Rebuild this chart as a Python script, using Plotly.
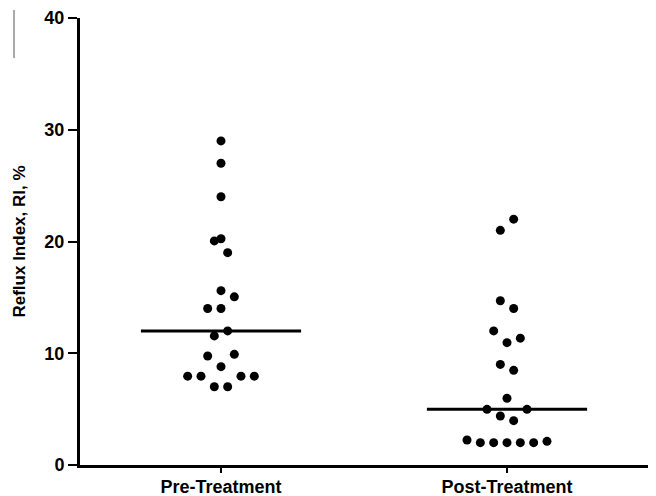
import numpy as np
import plotly.graph_objects as go

# ---------------- data ----------------
categories = ["Pre-Treatment", "Post-Treatment"]
# values listed in entry order (within a row of the dot plot they are laid out left to right)
pre_values = [29.0, 27.0, 24.0, 20.25, 20.05, 19.0, 15.6, 14.0, 14.0, 15.05,
              11.55, 12.0, 9.75, 8.8, 9.9, 7.95, 7.95, 7.0, 7.0, 7.95, 7.95]
post_values = [21.0, 22.0, 14.7, 14.0, 12.0, 10.95, 11.35, 9.0, 8.47, 5.97,
               4.98, 4.38, 3.97, 4.98, 2.24, 2.0, 2.0, 2.0, 2.0, 2.0, 2.12]
y_ticks = [0, 10, 20, 30, 40]
y_title = "Reflux Index, RI, %"

# ---------------- layout constants ----------------
# the page body has an 8px default margin, so the figure is drawn 8px smaller
W, H = 648, 488
ML, MR, MT, MB = 72, 4, 10, 31
PLOT_W = W - ML - MR
PLOT_H = H - MT - MB
Y_RANGE = [0, 40]
X_RANGE = [-0.493, 1.507]
SLOT_PX = 13.33          # horizontal spacing between neighbouring dots
MEDIAN_HALF = 0.28       # half width of the median bar, in category units
FONT = "Liberation Sans, Arial, sans-serif"

px_per_x = PLOT_W / (X_RANGE[1] - X_RANGE[0])
px_per_y = PLOT_H / (Y_RANGE[1] - Y_RANGE[0])
slot_x = SLOT_PX / px_per_x
row_tol = SLOT_PX / px_per_y


def swarm_offsets(values):
    """Group values into rows (points within one dot spacing of the row's
    lowest point) and centre each row, keeping entry order left to right."""
    order = sorted(range(len(values)), key=lambda i: values[i])
    rows, cur, start = [], [], None
    for i in order:
        if start is None or values[i] - start > row_tol:
            if cur:
                rows.append(cur)
            cur, start = [i], values[i]
        else:
            cur.append(i)
    if cur:
        rows.append(cur)
    offs = [0.0] * len(values)
    for r in rows:
        r = sorted(r)
        n = len(r)
        for k, i in enumerate(r):
            offs[i] = (k - (n - 1) / 2) * slot_x
    return offs


fig = go.Figure()
for ci, vals in enumerate([pre_values, post_values]):
    offs = swarm_offsets(vals)
    fig.add_trace(go.Scatter(
        x=[ci + o for o in offs], y=vals, mode="markers",
        marker=dict(size=9, color="black", line=dict(width=0)),
        name=categories[ci], showlegend=False, hoverinfo="y"))
    med = float(np.median(vals))
    fig.add_trace(go.Scatter(
        x=[ci - MEDIAN_HALF, ci + MEDIAN_HALF], y=[med, med], mode="lines",
        line=dict(color="black", width=3), showlegend=False, hoverinfo="skip"))

# thin stray line at the top left of the original image
fig.add_shape(type="line", xref="paper", yref="paper",
              x0=(6 - ML) / PLOT_W, x1=(6 - ML) / PLOT_W,
              y0=(H - MB - 2) / PLOT_H, y1=(H - MB - 50) / PLOT_H,
              line=dict(color="#555555", width=1))

fig.update_layout(
    width=W, height=H,
    margin=dict(l=ML, r=MR, t=MT, b=MB, pad=0, autoexpand=False),
    paper_bgcolor="white", plot_bgcolor="white",
    font=dict(family=FONT, color="black"),
    xaxis=dict(range=X_RANGE, tickvals=[0, 1], ticktext=[f"<b>{c}</b>" for c in categories],
               automargin=False,
               showline=True, linewidth=3, linecolor="black", showgrid=False, zeroline=False,
               ticks="outside", ticklen=5, tickwidth=2, tickcolor="black",
               ticklabelstandoff=-2,
               tickfont=dict(size=18, family=FONT, color="black")),
    yaxis=dict(range=Y_RANGE, tickvals=y_ticks, ticktext=[f"<b>{t}</b>" for t in y_ticks],
               automargin=False,
               showline=True, linewidth=3, linecolor="black", showgrid=False, zeroline=False,
               ticks="outside", ticklen=9, tickwidth=2, tickcolor="black",
               tickfont=dict(size=18, family=FONT, color="black"),
               title=dict(text=f"<b>{y_title}</b>", font=dict(size=17, family=FONT, color="black"),
                          standoff=15)),
)

fig.write_html("out.html")
